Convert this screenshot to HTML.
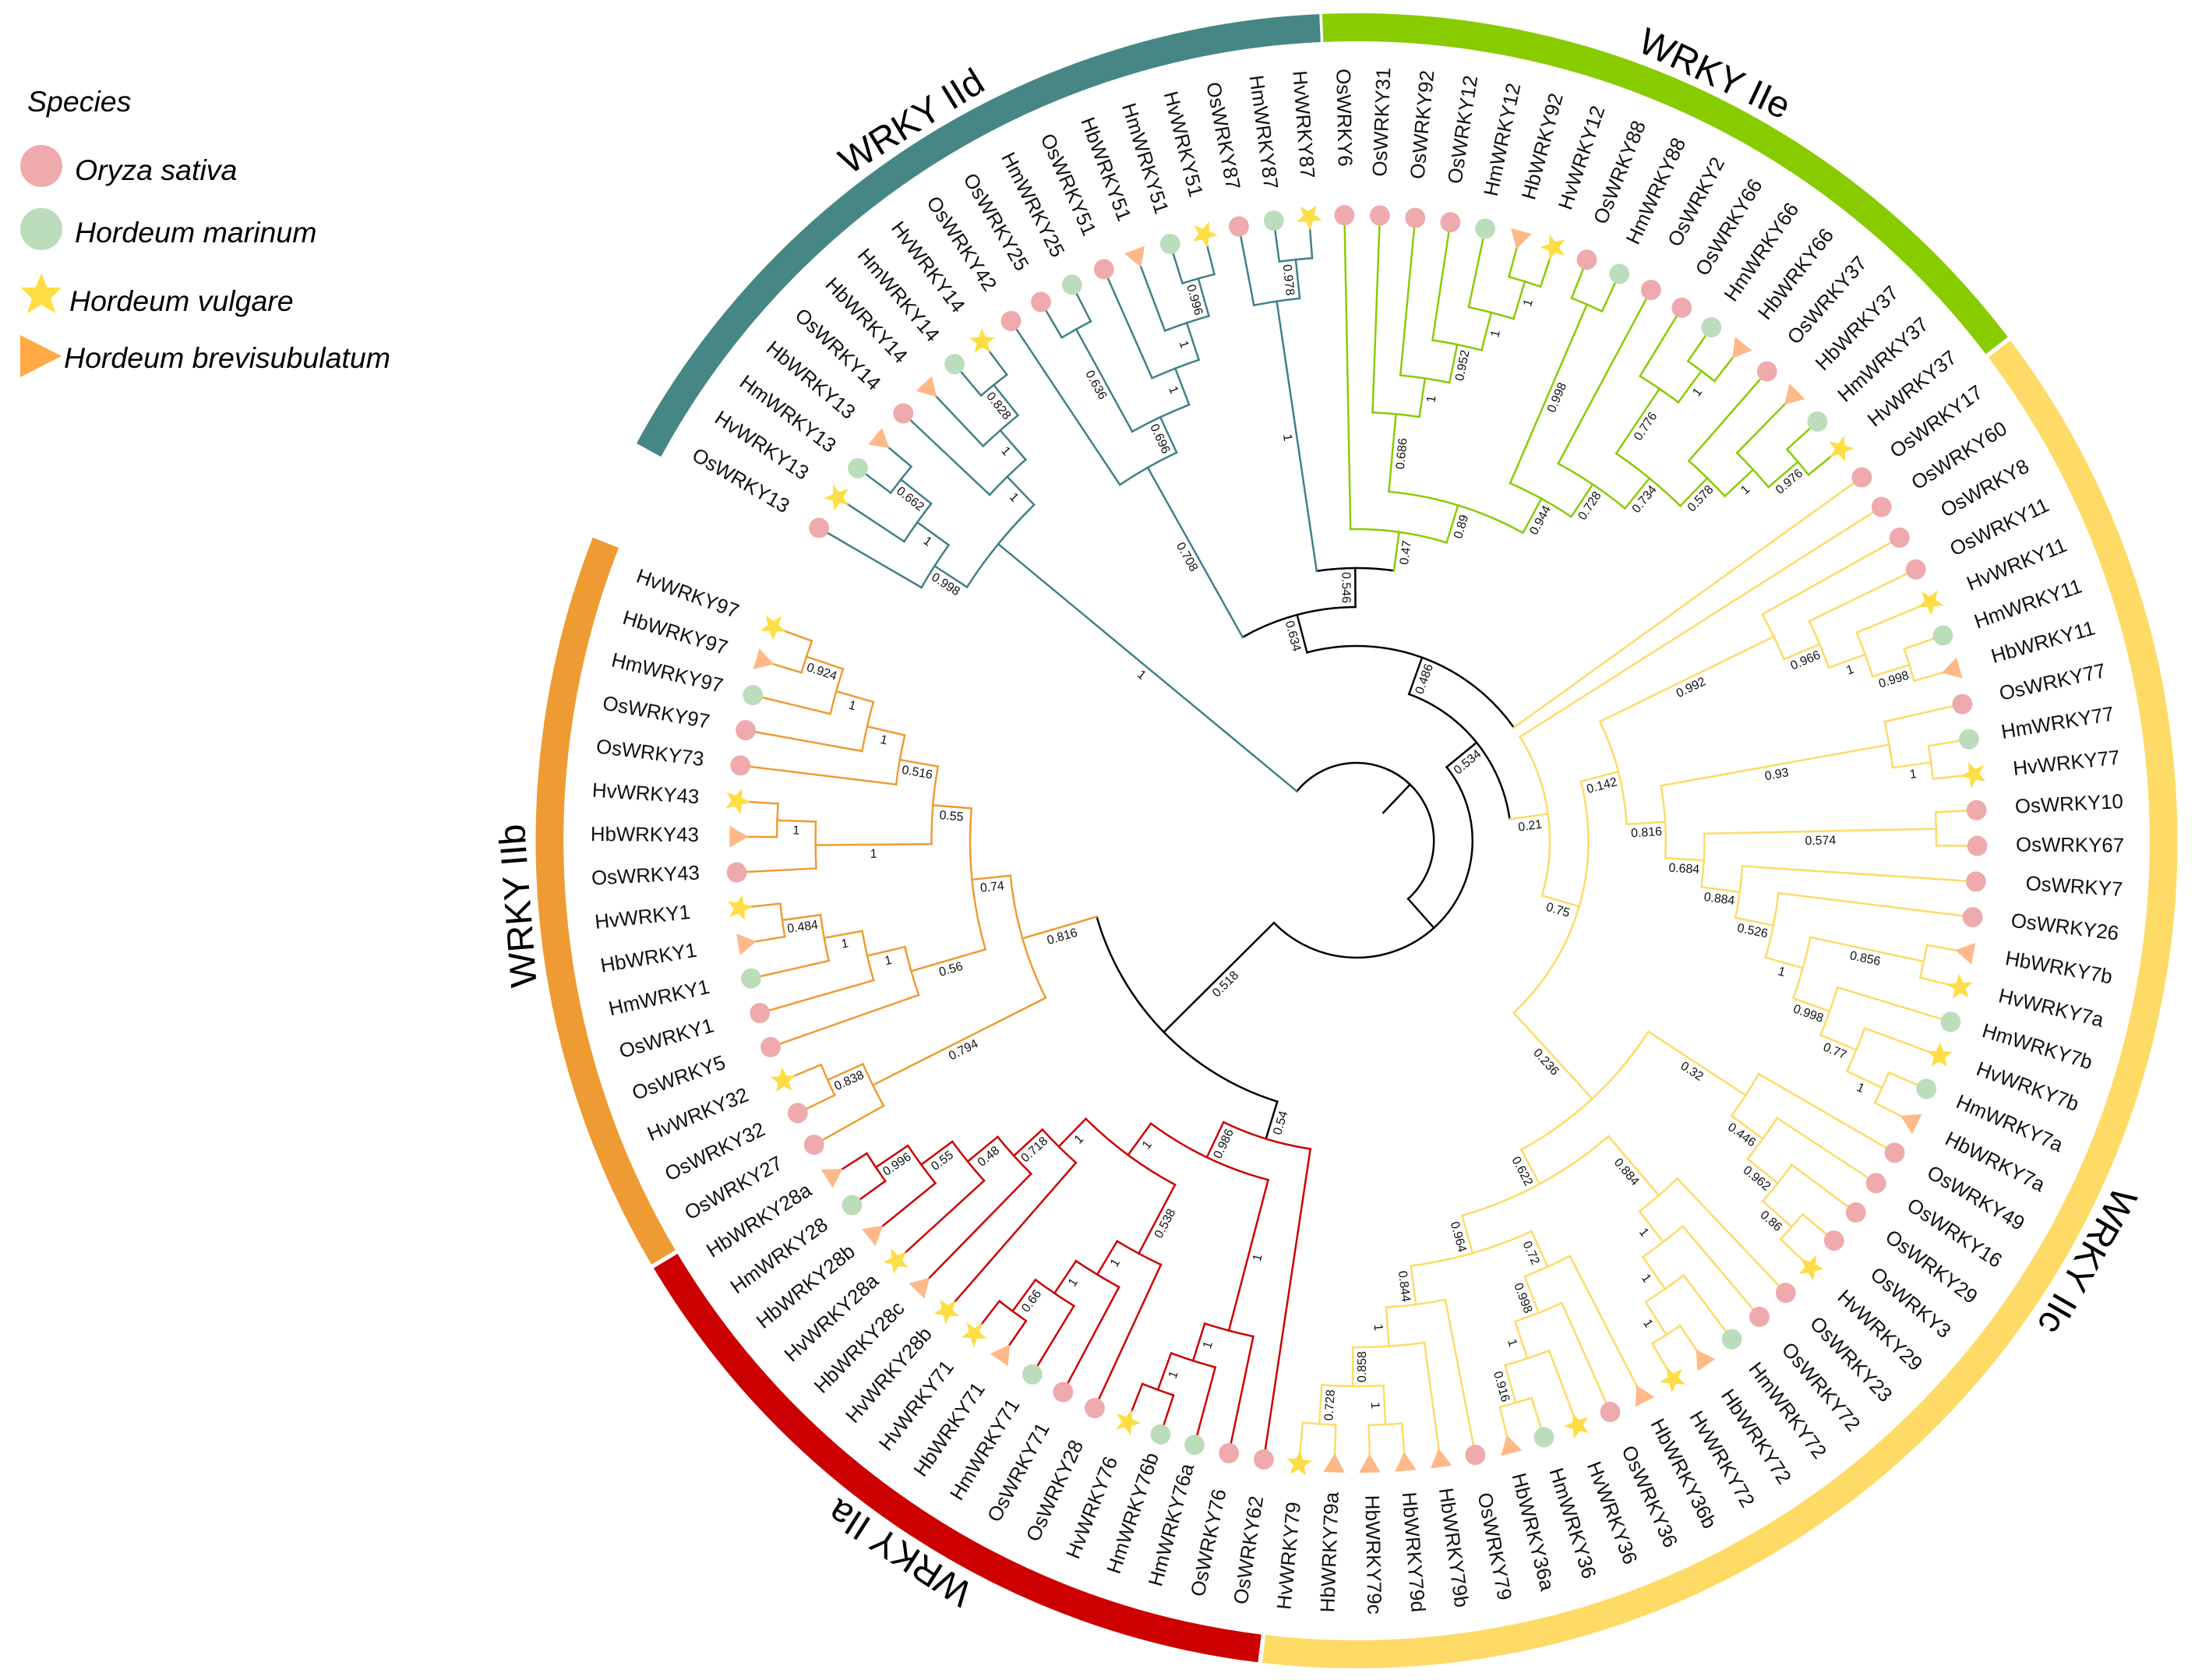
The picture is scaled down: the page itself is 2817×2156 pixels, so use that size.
<!DOCTYPE html>
<html lang="en">
<head>
<meta charset="utf-8">
<title>WRKY phylogenetic tree</title>
<style>
html,body{margin:0;padding:0;background:#fff;}
svg{display:block;font-family:"Liberation Sans",Arial,sans-serif;}
</style>
</head>
<body>
<svg id="chart" xmlns="http://www.w3.org/2000/svg" width="2817" height="2156" viewBox="0 0 2817 2156">
<rect x="0" y="0" width="2817" height="2156" fill="#ffffff"/>
<g id="legend" font-style="italic" font-size="37.5" fill="#000">
<text x="35" y="143">Species</text>
<circle cx="53" cy="213" r="27" fill="#eeaaad"/>
<text x="96" y="231">Oryza sativa</text>
<circle cx="53" cy="294" r="27" fill="#bbddbb"/>
<text x="96" y="311">Hordeum marinum</text>
<polygon points="53,351 60.5,369 79,369 65,383 71,402 53,391 35,402 41,383 27,369 45.5,369" fill="#ffdd44"/>
<text x="89" y="399">Hordeum vulgare</text>
<polygon points="26,430 26,484 79,457" fill="#ffaa44"/>
<text x="82" y="472">Hordeum brevisubulatum</text>
</g>
<g transform="translate(1741 1079) scale(0.992 1) translate(-1741 -1079)">
<g id="rings"></g>
<g id="branches" fill="none" stroke-width="2.5" stroke-linecap="square"></g>
<g id="supports" font-size="16" fill="#111" text-anchor="middle"></g>
<g id="markers"></g>
<g id="tips" font-size="26" fill="#111"></g>
</g>
</svg>
<script>
// ---- Data ----
var cladeTitles = ['WRKY IId', 'WRKY IIe', 'WRKY IIc', 'WRKY IIa', 'WRKY IIb'];
var cladeKeys = ['IId', 'IIe', 'IIc', 'IIa', 'IIb'];
var cladeStartDeg = [-61.3, -2.4, 52.8, 186.9, 239.2];
var cladeEndDeg = [-2.6, 52.5, 186.6, 238.9, 291.5];
var cladeRingColors = ['#468786', '#88cc00', '#fddb66', '#cc0000', '#ef9b33'];
var cladeBranchColors = ['#3f8088', '#88cc00', '#fddb66', '#cc0000', '#ef9b33'];
var speciesPrefixes = ['Os', 'Hm', 'Hv', 'Hb'];
var speciesColors = ['#eeaaad', '#bbddbb', '#ffdd44', '#ffb988'];
var speciesShapes = ['circle', 'circle', 'star', 'triangle'];

// Topology: tips in clockwise order, internal nodes carry their support value.
// "#X" starts clade X including the stem, "!X" starts clade X below a black stem.
var subtreeIId1 = '((OsWRKY13,(HvWRKY13,(HmWRKY13,HbWRKY13)0.662)1)0.998,(OsWRKY14,(HbWRKY14,(HmWRKY14,HvWRKY14)0.828)1)1)1#IId';
var subtreeIId2 = '(OsWRKY42,((OsWRKY25,HmWRKY25)0.636,(OsWRKY51,(HbWRKY51,(HmWRKY51,HvWRKY51)0.996)1)1)0.696)0.708#IId';
var subtreeIId3 = '(OsWRKY87,(HmWRKY87,HvWRKY87)0.978)1#IId';
var subtreeIIe = '(OsWRKY6,((OsWRKY31,(OsWRKY92,(OsWRKY12,(HmWRKY12,(HbWRKY92,HvWRKY12)1)1)0.952)1)0.686,((OsWRKY88,HmWRKY88)0.998,(OsWRKY2,((OsWRKY66,(HmWRKY66,HbWRKY66)1)0.776,(OsWRKY37,(HbWRKY37,(HmWRKY37,HvWRKY37)0.976)1)0.578)0.734)0.728)0.944)0.89)0.47#IIe';
var subtreeIIcP = '(OsWRKY8,(OsWRKY11,(HvWRKY11,(HmWRKY11,HbWRKY11)0.998)1)0.966)0.992';
var subtreeIIcQ = '((OsWRKY77,(HmWRKY77,HvWRKY77)1)0.93,((OsWRKY10,OsWRKY67)0.574,(OsWRKY7,(OsWRKY26,((HbWRKY7b,HvWRKY7a)0.856,(HmWRKY7b,(HvWRKY7b,(HmWRKY7a,HbWRKY7a)1)0.77)0.998)1)0.526)0.884)0.684)0.816';
var subtreeIIcM1 = '(OsWRKY49,(OsWRKY16,(OsWRKY29,(OsWRKY3,HvWRKY29)0.86)0.962)0.446)0.32';
var subtreeIIcM3 = '(OsWRKY23,(OsWRKY72,(HmWRKY72,(HbWRKY72,HvWRKY72)1)1)1)0.884';
var subtreeIIcM5 = '(HbWRKY36b,(OsWRKY36,(HvWRKY36,(HmWRKY36,HbWRKY36a)0.916)1)0.998)0.72';
var subtreeIIcM6 = '(OsWRKY79,(HbWRKY79b,((HbWRKY79d,HbWRKY79c)1,(HbWRKY79a,HvWRKY79)0.728)0.858)1)0.844';
var subtreeIIa = '(OsWRKY62,((OsWRKY76,(HmWRKY76a,(HmWRKY76b,HvWRKY76)1)1)1,((OsWRKY28,(OsWRKY71,(HmWRKY71,(HbWRKY71,HvWRKY71)0.66)1)1)0.538,(HvWRKY28b,(HbWRKY28c,(HvWRKY28a,(HbWRKY28b,(HmWRKY28,HbWRKY28a)0.996)0.55)0.48)0.718)1)1)0.986)0.54!IIa';
var subtreeIIb = '((OsWRKY27,(OsWRKY32,HvWRKY32)0.838)0.794,((OsWRKY5,(OsWRKY1,(HmWRKY1,(HbWRKY1,HvWRKY1)0.484)1)1)0.56,((OsWRKY43,(HbWRKY43,HvWRKY43)1)1,(OsWRKY73,(OsWRKY97,(HmWRKY97,(HbWRKY97,HvWRKY97)0.924)1)1)0.516)0.55)0.74)0.816#IIb';

var treeNewick =
  '(' + subtreeIId1 + ',((' +
    '((' + subtreeIId2 + ',(' + subtreeIId3 + ',' + subtreeIIe + ')0.546)0.634,OsWRKY17#IIc)0.486,' +
    '(OsWRKY60,((' + subtreeIIcP + ',' + subtreeIIcQ + ')0.142,(' + subtreeIIcM1 + ',(' + subtreeIIcM3 + ',(' + subtreeIIcM5 + ',' + subtreeIIcM6 + ')0.964)0.622)0.236)0.75)0.21#IIc' +
  ')0.534,(' + subtreeIIa + ',' + subtreeIIb + ')0.518))';

// ---- Layout ----
var treeCx = 1741, treeCy = 1079;
var ringCx = 1741, ringCy = 1079, ringR = 1044, ringWidth = 36, titleR = 1089;
var titleNudgeDeg = [0, 0.15, 0, 0, 0.25];
var labelOuterLeftR = 991, labelOuterRightR = 993;
var firstTipDeg = -60, tipStepDeg = 3.271;
var tipRadius = 800, levelStep = 50, rootStemR = 50, markerR = 803;
var NS = 'http://www.w3.org/2000/svg';

function mk(tag, parentId) {
  var el = document.createElementNS(NS, tag);
  document.getElementById(parentId).appendChild(el);
  return el;
}
function polar(cx, cy, r, deg) {
  var t = deg * Math.PI / 180;
  return [cx + r * Math.sin(t), cy - r * Math.cos(t)];
}
function arcPath(cx, cy, r, a0, a1) {
  var p0 = polar(cx, cy, r, a0), p1 = polar(cx, cy, r, a1);
  var large = (a1 - a0) > 180 ? 1 : 0;
  return 'M' + p0[0].toFixed(2) + ' ' + p0[1].toFixed(2) + 'A' + r + ' ' + r + ' 0 ' + large + ' 1 ' + p1[0].toFixed(2) + ' ' + p1[1].toFixed(2);
}
function normDeg(a) {
  while (a > 180) a -= 360;
  while (a <= -180) a += 360;
  return a;
}

// ---- Newick parser ----
var cursor = 0;
function readToken() {
  var start = cursor;
  while (cursor < treeNewick.length && ',()'.indexOf(treeNewick[cursor]) < 0) cursor++;
  return treeNewick.slice(start, cursor);
}
function parseNode() {
  var node = { kids: [] };
  if (treeNewick[cursor] === '(') {
    cursor++;
    node.kids.push(parseNode());
    while (treeNewick[cursor] === ',') {
      cursor++;
      node.kids.push(parseNode());
    }
    cursor++;
  }
  var token = readToken();
  var m = token.match(/^([^#!]*)([#!])?(.*)$/);
  node.label = m[1];
  node.mark = m[2] || '';
  node.cladeKey = m[3] || '';
  return node;
}
var root = parseNode();

var tipIndex = 0;
function layout(node) {
  if (!node.kids.length) {
    node.angle = firstTipDeg + tipStepDeg * tipIndex;
    tipIndex++;
    node.height = 0;
  } else {
    var h = 0;
    node.kids.forEach(function (k) { layout(k); h = Math.max(h, k.height); });
    node.height = h + 1;
    node.a0 = node.kids[0].angle;
    node.a1 = node.kids[node.kids.length - 1].angle;
    node.angle = (node.a0 + node.a1) / 2;
  }
  node.r = tipRadius - levelStep * node.height;
}
layout(root);

function branchColor(key) {
  return cladeBranchColors[cladeKeys.indexOf(key)];
}
function drawStem(node, parentR, color) {
  var endR = node.kids.length ? node.r : tipRadius - 10;
  var p0 = polar(treeCx, treeCy, parentR, node.angle), p1 = polar(treeCx, treeCy, endR, node.angle);
  var line = mk('line', 'branches');
  line.setAttribute('x1', p0[0].toFixed(2));
  line.setAttribute('y1', p0[1].toFixed(2));
  line.setAttribute('x2', p1[0].toFixed(2));
  line.setAttribute('y2', p1[1].toFixed(2));
  line.setAttribute('stroke', color);
  
  
}
function drawSupport(node, parentR) {
  if (!node.label) return;
  var midR = (parentR + node.r) / 2;
  var p = polar(treeCx, treeCy, midR, node.angle);
  var a = normDeg(node.angle);
  var rot = a > 0 ? a - 90 : a + 90;
  var t = mk('text', 'supports');
  t.setAttribute('transform', 'translate(' + p[0].toFixed(2) + ' ' + p[1].toFixed(2) + ') rotate(' + rot.toFixed(2) + ')');
  t.setAttribute('y', '17');
  t.textContent = node.label;
  
  
}
function starPoints(R) {
  var pts = [];
  for (var i = 0; i < 10; i++) {
    var rad = i % 2 ? R * 0.42 : R;
    var t = Math.PI * i / 5;
    pts.push((rad * Math.sin(t)).toFixed(2) + ',' + (rad * Math.cos(t)).toFixed(2));
  }
  return pts.join(' ');
}
function drawTip(node) {
  var sp = speciesPrefixes.indexOf(node.label.slice(0, 2));
  var c = polar(treeCx, treeCy, markerR, node.angle);
  var shape = speciesShapes[sp], el;
  if (shape === 'circle') {
    el = mk('circle', 'markers');
    el.setAttribute('cx', c[0].toFixed(2));
    el.setAttribute('cy', c[1].toFixed(2));
    el.setAttribute('r', '13');
  } else {
    el = mk('polygon', 'markers');
    el.setAttribute('transform', 'translate(' + c[0].toFixed(2) + ' ' + c[1].toFixed(2) + ') rotate(' + node.angle.toFixed(2) + ')');
    el.setAttribute('points', shape === 'star' ? starPoints(17.5) : '0,16 14,-8 -14,-8');
  }
  el.setAttribute('fill', speciesColors[sp]);
  
  

  // Labels share a common outer radius, so shorter names start further out.
  var a = normDeg(node.angle);
  var lp = polar(treeCx, treeCy, a > 0 ? labelOuterRightR : labelOuterLeftR, node.angle);
  var t = mk('text', 'tips');
  var rot = a > 0 ? a - 90 : a + 90;
  t.setAttribute('transform', 'translate(' + lp[0].toFixed(2) + ' ' + lp[1].toFixed(2) + ') rotate(' + rot.toFixed(2) + ')');
  t.setAttribute('text-anchor', a > 0 ? 'end' : 'start');
  t.setAttribute('y', '6.5');
  t.textContent = node.label;
  
  
}
function drawNode(node, parentR, parentColor) {
  var color = parentColor, stemColor = parentColor;
  if (node.mark === '#') { color = branchColor(node.cladeKey); stemColor = color; }
  if (node.mark === '!') { color = branchColor(node.cladeKey); }
  drawStem(node, parentR, stemColor);
  if (node.kids.length) {
    var arc = mk('path', 'branches');
    arc.setAttribute('d', arcPath(treeCx, treeCy, node.r, node.a0, node.a1));
    arc.setAttribute('stroke', color);
    
    
    drawSupport(node, parentR);
    node.kids.forEach(function (k) { drawNode(k, node.r, color); });
  } else {
    drawTip(node);
  }
}
drawNode(root, rootStemR, '#000000');

// ---- Clade rings and titles ----
cladeTitles.forEach(function (title, i) {
  var ring = mk('path', 'rings');
  ring.setAttribute('d', arcPath(ringCx, ringCy, ringR, cladeStartDeg[i], cladeEndDeg[i]));
  ring.setAttribute('fill', 'none');
  ring.setAttribute('stroke', cladeRingColors[i]);
  ring.setAttribute('stroke-width', ringWidth);
  
  
  var mid = (cladeStartDeg[i] + cladeEndDeg[i]) / 2 + titleNudgeDeg[i];
  var p = polar(ringCx, ringCy, titleR, mid);
  var t = mk('text', 'rings');
  t.setAttribute('transform', 'translate(' + p[0].toFixed(2) + ' ' + p[1].toFixed(2) + ') rotate(' + mid.toFixed(2) + ')');
  t.setAttribute('text-anchor', 'middle');
  t.setAttribute('y', '17');
  t.setAttribute('font-size', '48');
  t.setAttribute('fill', '#000');
  t.textContent = title;
  
  
});
</script>
</body>
</html>
